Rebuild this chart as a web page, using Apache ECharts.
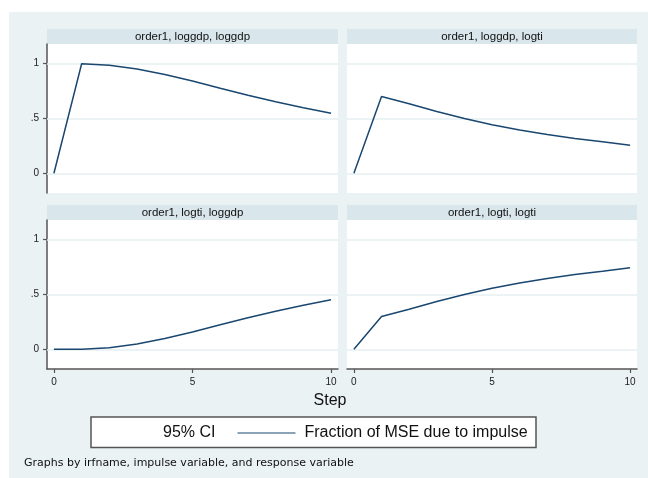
<!DOCTYPE html>
<html>
<head>
<meta charset="utf-8">
<script src="https://cdn.jsdelivr.net/npm/echarts@6/dist/echarts.min.js"></script>
<style>
  html, body { margin: 0; padding: 0; background: #ffffff; }
  #bg { position: absolute; left: 9px; top: 12px; width: 639px; height: 466px; background: #eaf2f3; }
  #chart { position: absolute; left: 0; top: 0; width: 648px; height: 478px; }
</style>
</head>
<body>
<div id="bg"></div>
<div id="chart"></div>
<script>
// ---- data ----
const steps = [0, 1, 2, 3, 4, 5, 6, 7, 8, 9, 10];
const fevdGdpOnGdp = [0, 1.0, 0.986, 0.952, 0.902, 0.843, 0.776, 0.712, 0.652, 0.598, 0.548];
const fevdGdpOnTi  = [0, 0.700, 0.634, 0.564, 0.500, 0.442, 0.396, 0.354, 0.317, 0.287, 0.256];
const fevdTiOnGdp  = [0, 0.0, 0.014, 0.048, 0.098, 0.157, 0.224, 0.288, 0.348, 0.402, 0.452];
const fevdTiOnTi   = [0, 0.300, 0.366, 0.436, 0.500, 0.558, 0.604, 0.646, 0.683, 0.713, 0.744];
const panelTitles = ['order1, loggdp, loggdp', 'order1, loggdp, logti', 'order1, logti, loggdp', 'order1, logti, logti'];
const xTicks = [0, 5, 10];
const yTicks = [0, 0.5, 1];
const yTickLabels = ['0', '.5', '1'];
const seriesName = 'Fraction of MSE due to impulse';
const ciName = '95% CI';
const xTitle = 'Step';
const noteText = 'Graphs by irfname, impulse variable, and response variable';

// ---- layout ----
const panels = [
  { left: 47,  top: 44,  width: 291, height: 149, vals: fevdGdpOnGdp, showX: false, showY: true },
  { left: 347, top: 44,  width: 290, height: 149, vals: fevdGdpOnTi,  showX: false, showY: false },
  { left: 47,  top: 220, width: 291, height: 149, vals: fevdTiOnGdp,  showX: true,  showY: true },
  { left: 347, top: 220, width: 290, height: 149, vals: fevdTiOnTi,   showX: true,  showY: false }
];
const lineColor = '#1a476f';
const axisColor = '#555555';
const font = 'Liberation Sans, Arial, sans-serif';

const grids = panels.map(p => ({ left: p.left, top: p.top, width: p.width, height: p.height,
  show: true, backgroundColor: '#ffffff', borderWidth: 0, containLabel: false }));

const xAxes = panels.map((p, i) => ({
  type: 'value', gridIndex: i, min: -0.25, max: 10.25,
  splitLine: { show: false },
  axisLine: { show: p.showX, onZero: false, lineStyle: { color: axisColor, width: 1.5 } },
  axisTick: { show: p.showX, length: 4, customValues: xTicks, lineStyle: { color: axisColor, width: 1.2 } },
  axisLabel: { show: p.showX, customValues: xTicks, margin: 8, color: '#222', fontSize: 10, fontFamily: font }
}));

const yAxes = panels.map((p, i) => ({
  type: 'value', gridIndex: i, min: -0.18, max: 1.18,
  splitLine: { show: false },
  axisLine: { show: p.showY, onZero: false, lineStyle: { color: axisColor, width: 1.5 } },
  axisTick: { show: p.showY, length: 4, customValues: yTicks, lineStyle: { color: axisColor, width: 1.2 } },
  axisLabel: { show: p.showY, customValues: yTicks, margin: 8, color: '#222', fontSize: 10, fontFamily: font,
    formatter: v => { const k = yTicks.findIndex(t => Math.abs(t - v) < 1e-9); return k >= 0 ? yTickLabels[k] : ''; } }
}));

const series = panels.map((p, i) => ({
  name: seriesName, type: 'line', xAxisIndex: i, yAxisIndex: i,
  data: steps.map((s, k) => [s, p.vals[k]]),
  symbol: 'none', showSymbol: false, smooth: false, z: 3,
  lineStyle: { color: lineColor, width: 1.5 }, itemStyle: { color: lineColor },
  markLine: {
    silent: true, symbol: 'none', z: 1, animation: false,
    label: { show: false },
    lineStyle: { color: '#e6eff1', width: 1.5, type: 'solid' },
    data: yTicks.map(v => ({ yAxis: v }))
  }
}));
series.push({ name: ciName, type: 'line', xAxisIndex: 0, yAxisIndex: 0, data: [], symbol: 'none',
  lineStyle: { color: 'rgba(0,0,0,0)' }, itemStyle: { color: 'rgba(0,0,0,0)' } });

const graphics = [];
panels.forEach((p, i) => {
  graphics.push({ type: 'rect', shape: { x: p.left, y: p.top - 15, width: p.width, height: 15 },
    style: { fill: '#d9e6eb' }, silent: true });
  graphics.push({ type: 'text', x: p.left + p.width / 2, y: p.top - 7.5,
    style: { text: panelTitles[i], textAlign: 'center', textVerticalAlign: 'middle',
      font: '11.5px ' + font, fill: '#111' }, silent: true });
});
// x axis title
graphics.push({ type: 'text', x: 330, y: 401,
  style: { text: xTitle, textAlign: 'center', textVerticalAlign: 'middle', font: '16px ' + font, fill: '#111' } });
// legend box
graphics.push({ type: 'rect', z: -5, shape: { x: 91, y: 417, width: 445, height: 30.5 },
  style: { fill: '#ffffff', stroke: '#555555', lineWidth: 1.5 } });
// note
graphics.push({ type: 'text', x: 24, y: 463,
  style: { text: noteText, textAlign: 'left', textVerticalAlign: 'middle', font: '11px DejaVu Sans, sans-serif', fill: '#111' } });

const chart = echarts.init(document.getElementById('chart'), null, { renderer: 'canvas' });
chart.setOption({
  animation: false,
  backgroundColor: 'transparent',
  grid: grids,
  xAxis: xAxes,
  yAxis: yAxes,
  series: series,
  legend: {
    left: 96, top: 425, orient: 'horizontal', padding: 0,
    itemWidth: 58, itemHeight: 14, itemGap: 22,
    selectedMode: false,
    data: [
      { name: ciName, icon: 'rect', itemStyle: { opacity: 0 } },
      { name: seriesName, icon: 'path://M0,6.4 L58,6.4 L58,7.6 L0,7.6 Z', itemStyle: { color: lineColor } }
    ],
    textStyle: { fontSize: 16, fontFamily: font, color: '#111', padding: [0, 0, 0, 4] }
  },
  graphic: { elements: graphics }
});
</script>
</body>
</html>
